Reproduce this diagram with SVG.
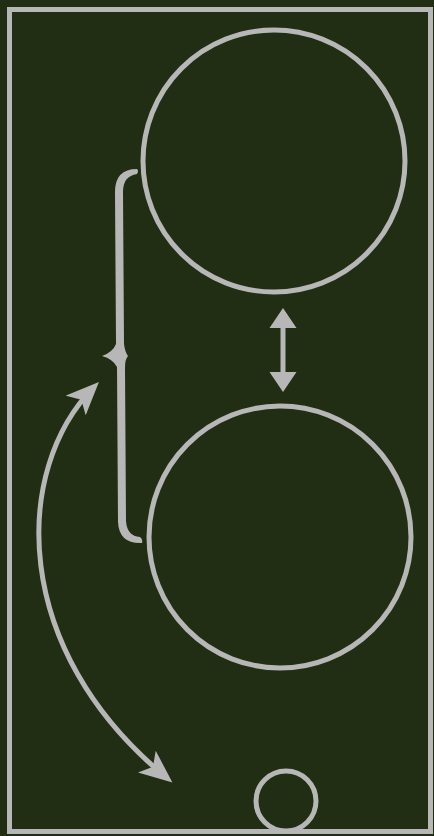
<svg xmlns="http://www.w3.org/2000/svg" width="434" height="836" viewBox="0 0 434 836">
<style>
.ln{fill:none;stroke:#b7b7b7;stroke-width:5}
.fl{fill:#b7b7b7}
</style>
<defs>
<marker id="ah" markerUnits="userSpaceOnUse" markerWidth="36" markerHeight="28" refX="26" refY="14" orient="auto-start-reverse">
<path d="M0,0 L33,14 L0,28 L8,14 Z" fill="#b7b7b7"/>
</marker>
<marker id="ah2" markerUnits="userSpaceOnUse" markerWidth="22" markerHeight="28" refX="16" refY="14" orient="auto-start-reverse">
<path d="M0,0.5 L20,14 L0,27.5 Z" fill="#b7b7b7"/>
</marker>
</defs>
<rect width="434" height="836" fill="#212e13"/>
<rect x="9.5" y="9.5" width="421" height="822" fill="none" stroke="#b7b7b7" stroke-width="5"/>
<g id="circle-top"><circle cx="274" cy="161" r="131" class="ln"/></g>
<g id="circle-bottom"><circle cx="280" cy="537" r="131" class="ln"/></g>
<g id="circle-small"><circle cx="286" cy="801" r="30" class="ln" stroke-width="6"/></g>
<g id="brace">
<path d="M137,169 Q115,169 115,192 L116,344 Q113,352 102,356 Q113,359 117,367 L118,522 Q119,544 142,543 Q143,539 140,537 Q127,536 126,521 L125,368 Q125,359 128,356 Q125,352 124,344 L123,192 Q123,176 137,174 Q139,171 137,169 Z" class="fl"/>
</g>
<g id="connectors">
<path d="M283,312 L283,388" class="ln" stroke-width="6" marker-start="url(#ah2)" marker-end="url(#ah2)"/>
<path d="M94,387 C12,470 10,650 167,778" class="ln" stroke-width="7" marker-start="url(#ah)" marker-end="url(#ah)"/>
</g>
</svg>
